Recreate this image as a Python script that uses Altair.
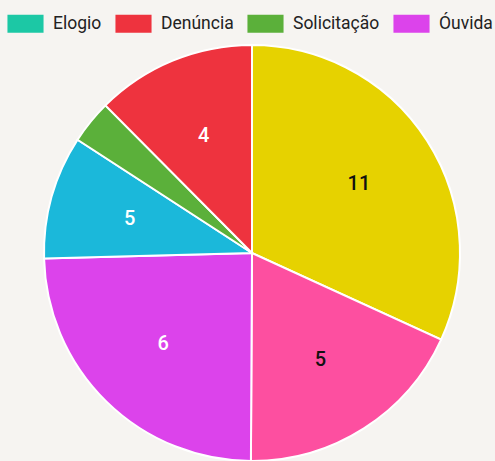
import altair as alt
import pandas as pd

# Slices in drawing order (clockwise from 12 o'clock)
categories = ["Reclamação", "Sugestão", "Óuvida", "Informação", "Solicitação", "Denúncia"]
slice_sizes = [114.6, 65.7, 88.2, 34.5, 12.2, 44.8]
labels = ["11", "5", "6", "5", "", "4"]
label_tone = ["dark", "dark", "light", "light", "light", "light"]

legend_names = ["Elogio", "Denúncia", "Solicitação", "Óuvida"]
domain = ["Elogio", "Denúncia", "Solicitação", "Óuvida", "Reclamação", "Sugestão", "Informação"]
colors = ["#1cc8a5", "#ee333e", "#5bb03a", "#dc43eb", "#e6d200", "#fd4fa0", "#1bb8da"]

df = pd.DataFrame({
    "categoria": categories,
    "valor": slice_sizes,
    "rotulo": labels,
    "tom": label_tone,
    "ordem": list(range(len(categories))),
})

FONT = "Roboto"

base = alt.Chart(df).encode(
    theta=alt.Theta("valor:Q", stack=True),
    order=alt.Order("ordem:Q"),
    x=alt.value(252),
    y=alt.value(253),
)

arcs = base.mark_arc(radius=208, stroke="white", strokeWidth=2).encode(
    color=alt.Color(
        "categoria:N",
        scale=alt.Scale(domain=domain, range=colors),
        legend=alt.Legend(
            values=legend_names,
            title=None,
            orient="none",
            legendX=16,
            legendY=14,
            direction="horizontal",
            symbolType="M-1.9,-0.95H1.9V0.95H-1.9Z",
            symbolSize=361,
            symbolStrokeWidth=0,
            labelFontSize=17.5,
            labelFont=FONT,
            labelColor="#222222",
            labelOffset=18,
            columnPadding=13,
            padding=0,
        ),
    )
)

text = base.mark_text(radius=127, fontSize=20, font="Roboto", fontWeight=500).encode(
    text="rotulo:N",
    color=alt.condition("datum.tom == 'dark'", alt.value("#111111"), alt.value("#ffffff")),
)

chart = (arcs + text).properties(
    width=495,
    height=461,
    padding=0,
    autosize=alt.AutoSizeParams(type="none"),
    background="#f6f4f1",
).configure_view(stroke=None)

chart.save("out.html", embed_options={"renderer": "svg", "actions": False})
